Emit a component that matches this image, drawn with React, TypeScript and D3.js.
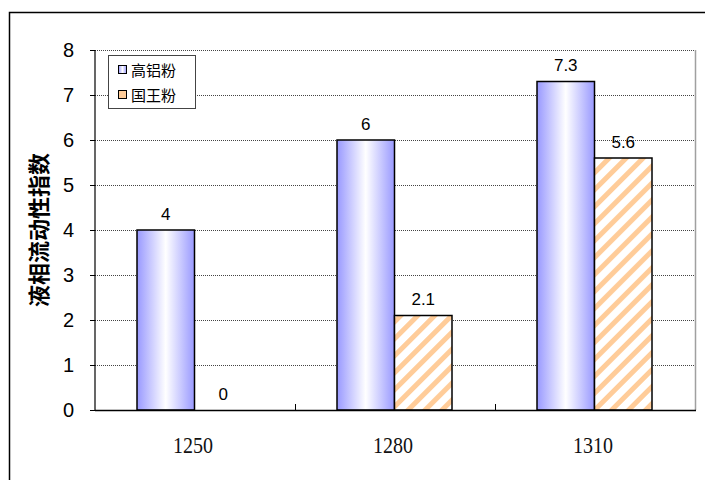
import React, { useEffect, useRef } from 'react';
import * as d3 from 'd3';

const categories = ['1250', '1280', '1310'];
const seriesNames = ['高铝粉', '国王粉'];
const gaoLvFen = [4, 6, 7.3];
const guoWangFen = [0, 2.1, 5.6];
const yTicks = [0, 1, 2, 3, 4, 5, 6, 7, 8];

const App = () => {
  const svgRef = useRef<SVGSVGElement>(null);

  useEffect(() => {
    const svg = d3.select(svgRef.current);
    svg.selectAll('*').remove();

    const W = 705, H = 480;
    const left = 95, right = 695, top = 50, bottom = 410;

    const defs = svg.append('defs');
    const grad = defs.append('linearGradient').attr('id', 'blueGrad')
      .attr('x1', '0%').attr('x2', '100%').attr('y1', '0%').attr('y2', '0%');
    grad.append('stop').attr('offset', '0%').attr('stop-color', '#9999ff');
    grad.append('stop').attr('offset', '50%').attr('stop-color', '#ffffff');
    grad.append('stop').attr('offset', '100%').attr('stop-color', '#9999ff');

    const pat = defs.append('pattern').attr('id', 'hatch')
      .attr('patternUnits', 'userSpaceOnUse').attr('width', 12).attr('height', 12)
      .attr('patternTransform', 'rotate(45)');
    pat.append('rect').attr('width', 12).attr('height', 12).attr('fill', '#ffffff');
    pat.append('rect').attr('x', 0).attr('width', 5).attr('height', 12).attr('fill', '#ffcc99');

    svg.append('rect').attr('width', W).attr('height', H).attr('fill', '#ffffff');
    // outer frame
    svg.append('rect').attr('x', 9.5).attr('y', 12.5).attr('width', W + 20).attr('height', H + 20)
      .attr('fill', 'none').attr('stroke', '#000').attr('stroke-width', 1.5);

    const x = d3.scaleBand().domain(categories).range([left, right]);
    const y = d3.scaleLinear().domain([0, 8]).range([bottom, top]);
    const barW = 57.5;
    const offset = 42;

    // grid
    svg.append('g').selectAll('line').data(yTicks.filter(t => t > 0)).join('line')
      .attr('x1', left).attr('x2', right)
      .attr('y1', d => y(d) + 0.5).attr('y2', d => y(d) + 0.5)
      .attr('stroke', '#444').attr('stroke-width', 1).attr('stroke-dasharray', '1,1');

    // right border
    svg.append('line').attr('x1', right + 0.5).attr('x2', right + 0.5).attr('y1', top).attr('y2', bottom)
      .attr('stroke', '#a0a0a0').attr('stroke-width', 1.5);

    const series = [
      { name: seriesNames[0], values: gaoLvFen, fill: 'url(#blueGrad)' },
      { name: seriesNames[1], values: guoWangFen, fill: 'url(#hatch)' },
    ];

    series.forEach((s, si) => {
      const g = svg.append('g');
      g.selectAll('rect').data(s.values).join('rect')
        .attr('x', (d, i) => x(categories[i])! + offset + si * barW)
        .attr('y', d => y(d))
        .attr('width', barW)
        .attr('height', d => bottom - y(d))
        .attr('fill', s.fill)
        .attr('stroke', d => (d > 0 ? '#000' : 'none'))
        .attr('stroke-width', 1.5);
      g.selectAll('text').data(s.values).join('text')
        .attr('x', (d, i) => x(categories[i])! + offset + si * barW + barW / 2)
        .attr('y', d => y(d) - 10.5)
        .attr('text-anchor', 'middle')
        .attr('font-family', 'Liberation Sans, Arial, sans-serif')
        .attr('font-size', 17)
        .attr('fill', '#000')
        .text(d => String(d));
    });

    // axes
    svg.append('line').attr('x1', left).attr('x2', left).attr('y1', top).attr('y2', bottom + 0.5)
      .attr('stroke', '#000').attr('stroke-width', 1.2);
    svg.append('line').attr('x1', left).attr('x2', right + 1).attr('y1', bottom + 0.5).attr('y2', bottom + 0.5)
      .attr('stroke', '#000').attr('stroke-width', 1.5);
    svg.append('g').selectAll('line').data(yTicks).join('line')
      .attr('x1', left - 5).attr('x2', left)
      .attr('y1', d => y(d) + 0.5).attr('y2', d => y(d) + 0.5)
      .attr('stroke', '#000');
    svg.append('g').selectAll('line').data(categories.slice(1)).join('line')
      .attr('x1', d => x(d)! + 0.5).attr('x2', d => x(d)! + 0.5)
      .attr('y1', bottom).attr('y2', bottom - 6)
      .attr('stroke', '#000');

    svg.append('g').selectAll('text').data(yTicks).join('text')
      .attr('x', 74).attr('y', d => y(d) + 7)
      .attr('text-anchor', 'end')
      .attr('font-family', 'Liberation Sans, Arial, sans-serif')
      .attr('font-size', 20)
      .text(d => String(d));

    svg.append('g').selectAll('text').data(categories).join('text')
      .attr('transform', d => `translate(${x(d)! + x.bandwidth() / 2 - 2},453) scale(1,1.15)`)
      .attr('text-anchor', 'middle')
      .attr('font-family', 'Liberation Serif, DejaVu Serif, serif')
      .attr('font-size', 20)
      .attr('fill', '#111')
      .text(d => d);

    svg.append('text')
      .attr('transform', `translate(47,${(top + bottom) / 2}) rotate(-90)`)
      .attr('text-anchor', 'middle')
      .attr('font-family', 'Noto Sans CJK SC, sans-serif')
      .attr('font-weight', 'bold')
      .attr('font-size', 22)
      .text('液相流动性指数');

    // legend
    const lg = svg.append('g');
    lg.append('rect').attr('x', 108.5).attr('y', 55.5).attr('width', 87).attr('height', 53)
      .attr('fill', '#fff').attr('stroke', '#444').attr('stroke-width', 1);
    series.forEach((s, i) => {
      const cy = 70 + i * 25;
      lg.append('rect').attr('x', 118.5).attr('y', cy - 4.5).attr('width', 8).attr('height', 8)
        .attr('fill', i === 0 ? 'url(#blueGrad)' : '#ffcc99').attr('stroke', '#000');
      lg.append('text').attr('x', 131).attr('y', cy + 6)
        .attr('font-family', 'Noto Sans CJK SC, sans-serif')
        .attr('font-size', 15)
        .text(s.name);
    });
  }, []);

  return (
    <svg ref={svgRef} width={705} height={480} style={{ position: 'absolute', left: 0, top: 0 }}></svg>
  );
};

export default App;
